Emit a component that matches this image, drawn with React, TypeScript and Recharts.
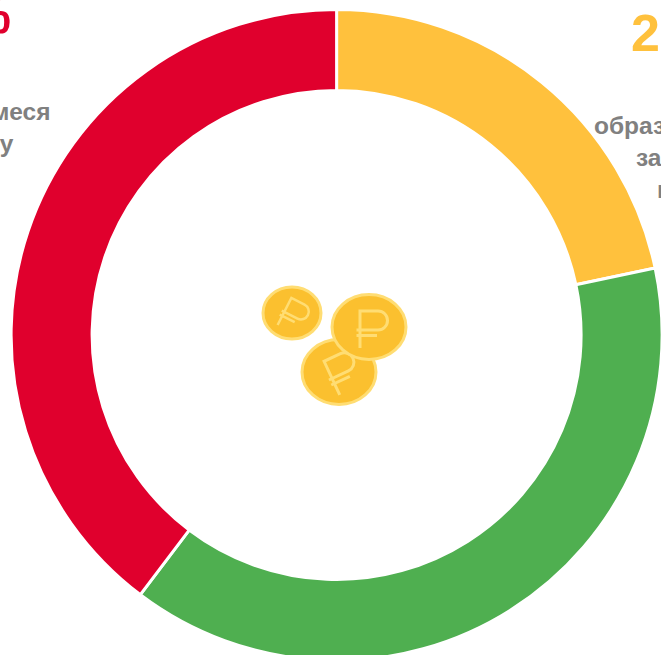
import React from "react";
import { PieChart, Pie, Cell } from "recharts";

const segmentNames = ["yellow", "green", "red"];
const segmentValues = [21.7, 38.6, 39.7];
const segmentColors = ["#FFC13D", "#4FAF50", "#E0002D"];

const W = 661;
const H = 655;
const FONT = "'Liberation Sans', Arial, sans-serif";
const GREY = "#808080";

const data = segmentNames.map((name, i) => ({ name, value: segmentValues[i] }));

const coins = [
  { cx: 292, cy: 313, rx: 30.5, ry: 27.5, rot: 27, s: 0.82 },
  { cx: 339, cy: 372, rx: 38.5, ry: 34, rot: -25, s: 1 },
  { cx: 369, cy: 327, rx: 38.5, ry: 34, rot: 0, s: 1 },
];

function Coin({ c }: { c: (typeof coins)[number] }) {
  return (
    <g>
      <ellipse cx={c.cx} cy={c.cy} rx={c.rx - 1.5} ry={c.ry - 1.5} fill="#FBC02F" stroke="#FFDD73" strokeWidth={3} />
      <g transform={`translate(${c.cx} ${c.cy}) rotate(${c.rot}) scale(${c.s})`}>
        <path
          d="M-9,21 V-16 H9 A9.5,9.5 0 0 1 9,3 H-12.5 M-12.5,8.5 H8"
          fill="none"
          stroke="#FFDD73"
          strokeWidth={3}
        />
      </g>
    </g>
  );
}

const boldText = { fontFamily: FONT, fontWeight: 700 };

export default function App() {
  return (
    <div style={{ position: "absolute", left: 0, top: 0, width: W, height: H, overflow: "hidden", background: "#fff" }}>
      <PieChart width={W} height={H} margin={{ top: 0, right: 0, bottom: 0, left: 0 }}>
        <Pie
          data={data}
          dataKey="value"
          nameKey="name"
          cx={336.6}
          cy={335}
          outerRadius={325.5}
          innerRadius={244.5}
          startAngle={90}
          endAngle={-270}
          stroke="#fff"
          strokeWidth={3}
          isAnimationActive={false}
        >
          {data.map((d, i) => (
            <Cell key={d.name} fill={segmentColors[i]} />
          ))}
        </Pie>
      </PieChart>
      <svg width={W} height={H} style={{ position: "absolute", left: 0, top: 0, pointerEvents: "none" }}>
        {coins.map((c, i) => (
          <Coin key={i} c={c} />
        ))}
        <text x={11} y={33} textAnchor="end" fill="#E0002D" fontSize={52} style={boldText}>39%</text>
        <text x={50.5} y={120} textAnchor="end" fill={GREY} fontSize={24.5} style={boldText}>меся</text>
        <text x={13.5} y={152} textAnchor="end" fill={GREY} fontSize={24.5} style={boldText}>у</text>
        <text x={631} y={51} fill="#FFC13D" fontSize={52} style={boldText}>22%</text>
        <text x={594} y={134} fill={GREY} fontSize={24.5} style={boldText}>образ</text>
        <text x={636} y={166} fill={GREY} fontSize={24.5} style={boldText}>за</text>
        <text x={657} y={198} fill={GREY} fontSize={24.5} style={boldText}>ц</text>
      </svg>
    </div>
  );
}
